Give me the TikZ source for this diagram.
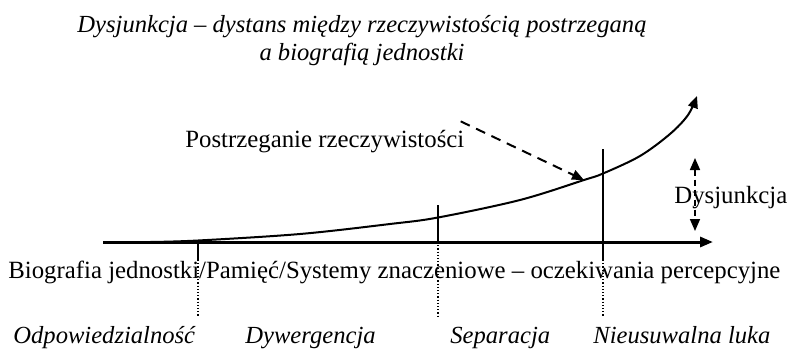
\documentclass[tikz,border=0pt]{standalone}
\usepackage{fontspec}
\setmainfont{Liberation Serif}
\usetikzlibrary{arrows.meta,positioning}

\begin{document}
\begin{tikzpicture}[x=0.5pt, y=-0.5pt,
  font=\fontsize{12.4pt}{14pt}\selectfont,
  txt/.style={inner sep=0pt, anchor=base west},
  phase/.style={txt, font=\fontsize{12.3pt}{14pt}\selectfont\itshape},
  guide/.style={densely dotted, line width=0.6pt},
  tip/.style={-{Triangle[length=6pt,width=5pt]}}]
  \useasboundingbox (0,0) rectangle (789,349);

  % title
  \node[anchor=base, inner sep=0pt, font=\fontsize{12.3pt}{14pt}\selectfont\itshape] (title1) at (362,32) {Dysjunkcja – dystans między rzeczywistością postrzeganą};
  \node[anchor=base, inner sep=0pt, font=\fontsize{12.3pt}{14pt}\selectfont\itshape] (title2) at (362,60) {a biografią jednostki};

  % axis and curve
  \coordinate (origin) at (103,242);
  \coordinate (xend) at (713,242);
  \draw[line width=1.5pt, -{Triangle[length=6.5pt,width=5pt]}] (origin) -- (xend);
  \draw[line width=1pt, tip] plot[smooth, tension=0.55] coordinates {(150,242) (198,240.5) (300,234) (390,224) (438,217.5) (520,200) (584,180) (603,173.5) (640,156) (670,134) (688,115) (697,96)};
  \coordinate (percept) at (584,180);

  % phase lines
  \foreach \x/\top/\bot in {198/242/260, 438/205/242, 603/149/260} {
    \draw[line width=1pt] (\x,\top) -- (\x,\bot);
    \draw[guide] (\x,\bot) -- (\x,317);
  }

  \node[txt] (post) at (185,147) {Postrzeganie rzeczywistości};
  \draw[line width=1pt, dash pattern=on 5pt off 3.5pt, tip] ([xshift=-2pt,yshift=4pt]post.north east) -- (percept);

  % disjunction gap
  \coordinate (dtop) at (695,158);
  \coordinate (dbot) at (695,231);
  \draw[line width=0.8pt, dash pattern=on 3pt off 2pt, {Triangle[length=6pt,width=5pt]}-{Triangle[length=6pt,width=5pt]}] (dtop) -- (dbot);
  \node[txt] (disj) at (674,203) {Dysjunkcja};

  \node[txt] (bio) at (8,278) {Biografia jednostki/Pamięć/Systemy znaczeniowe – oczekiwania percepcyjne};

  % phases
  \node[phase] (resp) at (13,343) {Odpowiedzialność};
  \node[phase] (diverg) at (245,343) {Dywergencja};
  \node[phase] (separ) at (450,343) {Separacja};
  \node[phase] (gap) at (593,343) {Nieusuwalna luka};
\end{tikzpicture}
\end{document}
